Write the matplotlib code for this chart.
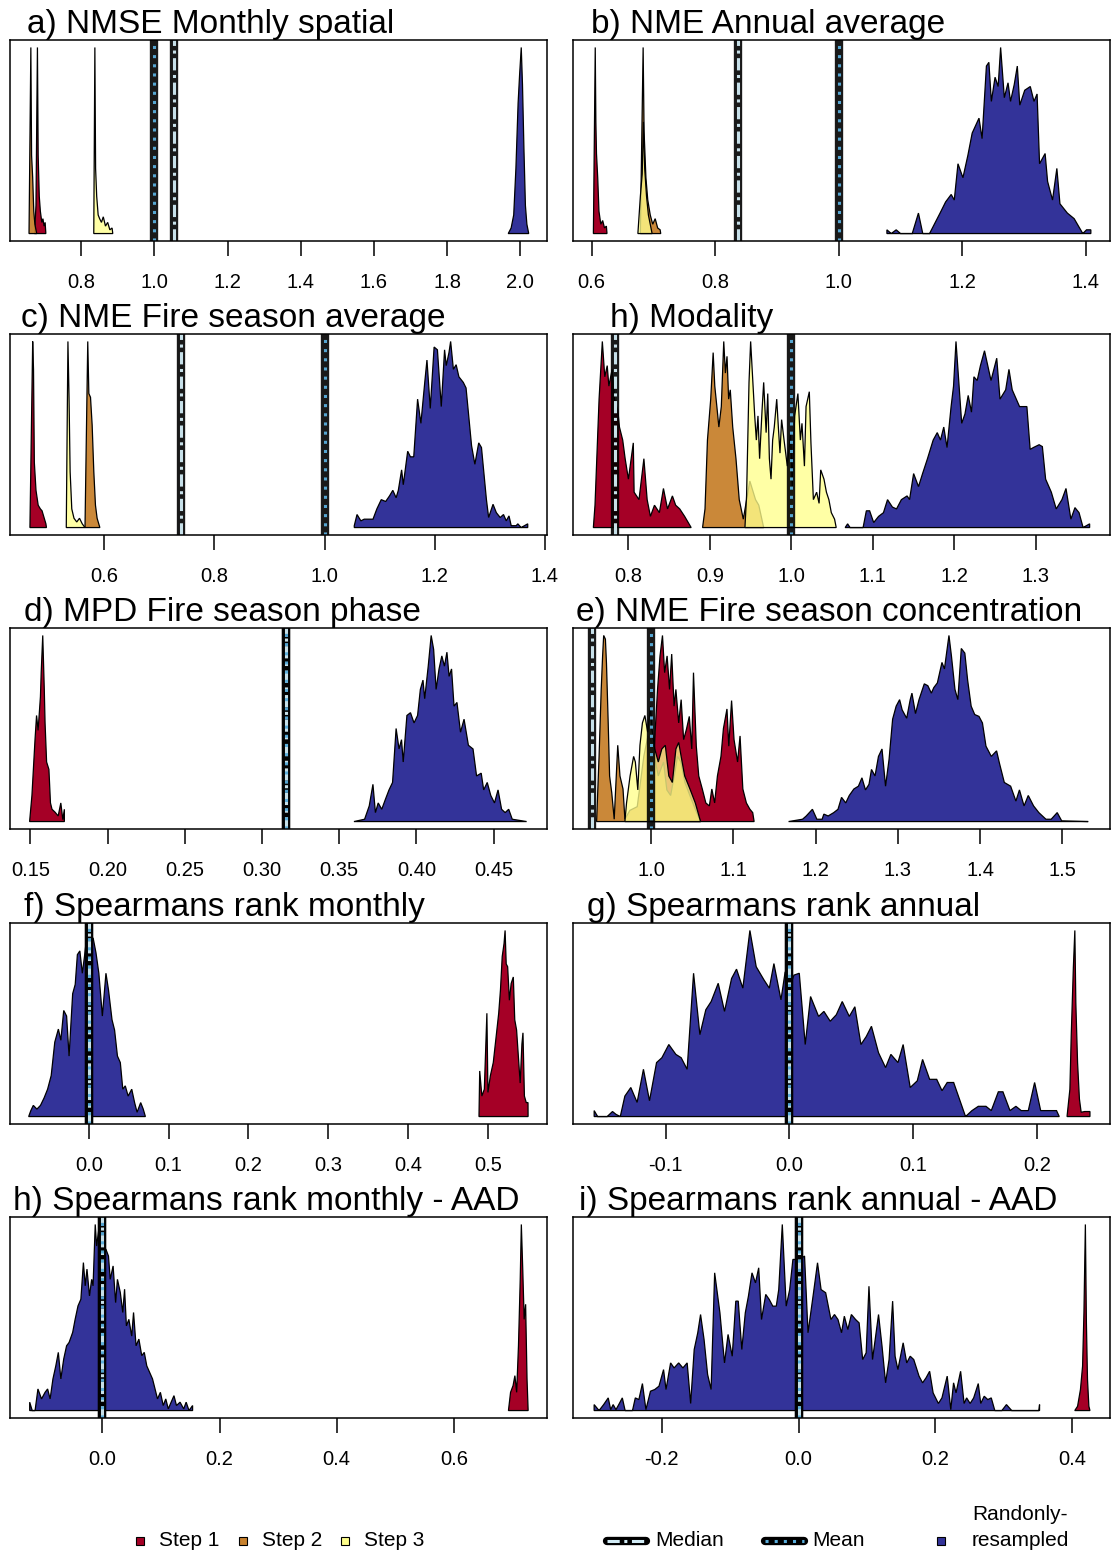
import matplotlib
matplotlib.use("Agg")
import matplotlib.pyplot as plt
import numpy as np

plt.rcParams["font.family"] = ["Liberation Sans", "DejaVu Sans"]

RED = "#A50026"
ORANGE = "#C8822E"
YELLOW = "#FFFF8C"
BLUE = "#333399"
MEDIAN_COL = "#D2ECF6"
MEAN_COL = "#5AAEDC"

# ---- distributions: (score, relative frequency) ----
# a) NMSE Monthly spatial
A_STEP1 = [(0.672, 0), (0.676, 0.15), (0.680, 1.0), (0.682, 0.42), (0.685, 0.20), (0.688, 0.12),
           (0.692, 0.06), (0.695, 0.08), (0.698, 0.04), (0.701, 0.06), (0.703, 0)]
A_STEP2 = [(0.657, 0), (0.662, 1.0), (0.664, 0.42), (0.667, 0.30), (0.670, 0.12), (0.673, 0.05),
           (0.676, 0.02), (0.678, 0)]
A_STEP3 = [(0.834, 0), (0.837, 1.0), (0.839, 0.35), (0.842, 0.20), (0.846, 0.10), (0.850, 0.08),
           (0.855, 0.06), (0.860, 0.09), (0.866, 0.04), (0.872, 0.06), (0.878, 0.02), (0.884, 0.03),
           (0.886, 0)]
A_RAND = [(1.967, 0), (1.975, 0.03), (1.982, 0.10), (1.988, 0.35), (1.994, 0.70), (1.998, 0.85),
          (2.0026, 1.0), (2.006, 0.80), (2.010, 0.45), (2.014, 0.15), (2.018, 0.05), (2.022, 0.01),
          (2.023, 0)]

# b) NME Annual average
B_STEP1 = [(0.603, 0), (0.606, 1.0), (0.607, 0.6), (0.608, 0.43), (0.610, 0.30), (0.612, 0.12),
           (0.615, 0.05), (0.618, 0.07), (0.621, 0.03), (0.624, 0.04), (0.625, 0)]
B_STEP2 = [(0.679, 0), (0.6835, 1.0), (0.685, 0.55), (0.688, 0.30), (0.691, 0.18), (0.695, 0.10),
           (0.699, 0.05), (0.703, 0.08), (0.707, 0.03), (0.711, 0.02), (0.712, 0)]
B_STEP3 = [(0.675, 0), (0.679, 0.20), (0.682, 0.32), (0.684, 0.60), (0.686, 0.35), (0.689, 0.20),
           (0.692, 0.10), (0.695, 0.05), (0.698, 0)]
B_RAND = [(1.078, 0.02), (1.085, 0), (1.093, 0.02), (1.100, 0), (1.119, 0), (1.129, 0.11),
          (1.136, 0), (1.147, 0), (1.164, 0.11), (1.173, 0.17), (1.182, 0.21), (1.187, 0.18),
          (1.193, 0.375), (1.201, 0.30), (1.209, 0.42), (1.216, 0.54), (1.227, 0.62), (1.232, 0.51),
          (1.239, 0.90), (1.243, 0.92), (1.247, 0.71), (1.253, 0.84), (1.258, 0.79), (1.262, 1.0),
          (1.268, 0.73), (1.274, 0.81), (1.278, 0.71), (1.284, 0.80), (1.289, 0.90), (1.293, 0.69),
          (1.301, 0.77), (1.310, 0.79), (1.316, 0.71), (1.321, 0.75), (1.325, 0.375), (1.334, 0.43),
          (1.338, 0.28), (1.346, 0.18), (1.353, 0.35), (1.358, 0.16), (1.370, 0.11), (1.381, 0.08),
          (1.395, 0), (1.401, 0.02), (1.408, 0.02)]

# c) NME Fire season average
C_STEP1 = [(0.465, 0), (0.470, 1.0), (0.4715, 0.85), (0.473, 0.35), (0.476, 0.20), (0.480, 0.12),
           (0.484, 0.10), (0.487, 0.09), (0.490, 0.06), (0.494, 0.02), (0.495, 0)]
C_STEP2 = [(0.565, 0), (0.570, 1.0), (0.572, 0.72), (0.575, 0.70), (0.578, 0.55), (0.581, 0.30),
           (0.584, 0.12), (0.587, 0.05), (0.590, 0.02), (0.592, 0)]
C_STEP3 = [(0.531, 0), (0.534, 1.0), (0.536, 0.70), (0.538, 0.30), (0.541, 0.10), (0.545, 0.05),
           (0.550, 0.03), (0.555, 0.05), (0.560, 0.02), (0.565, 0)]
C_RAND = [(1.054, 0.01), (1.059, 0.07), (1.066, 0.036), (1.072, 0.045), (1.088, 0.045), (1.095, 0.10),
          (1.103, 0.15), (1.111, 0.14), (1.118, 0.17), (1.124, 0.20), (1.130, 0.16), (1.134, 0.20),
          (1.140, 0.31), (1.143, 0.23), (1.151, 0.41), (1.156, 0.38), (1.162, 0.38), (1.169, 0.69),
          (1.175, 0.56), (1.182, 0.78), (1.186, 0.90), (1.192, 0.64), (1.199, 0.97), (1.205, 0.955),
          (1.212, 0.65), (1.218, 0.955), (1.221, 0.87), (1.226, 0.94), (1.229, 1.0), (1.234, 0.85),
          (1.239, 0.875), (1.244, 0.81), (1.252, 0.78), (1.257, 0.75), (1.267, 0.44), (1.273, 0.34),
          (1.280, 0.455), (1.285, 0.43), (1.294, 0.15), (1.298, 0.054), (1.306, 0.125), (1.312, 0.08),
          (1.319, 0.054), (1.325, 0.07), (1.330, 0.036), (1.335, 0.0625), (1.339, 0.01), (1.348, 0.01),
          (1.351, 0.02), (1.357, 0), (1.369, 0.02)]

# h) Modality
H_STEP1 = [(0.757, 0), (0.759, 0.12), (0.764, 0.69), (0.768, 1.0), (0.771, 0.81), (0.774, 0.87),
           (0.776, 0.76), (0.780, 0.85), (0.783, 0.69), (0.787, 0.63), (0.789, 0.54), (0.793, 0.47),
           (0.796, 0.37), (0.800, 0.26), (0.806, 0.455), (0.807, 0.19), (0.813, 0.15), (0.819, 0.37),
           (0.823, 0.15), (0.827, 0.06), (0.832, 0.12), (0.838, 0.08), (0.843, 0.21), (0.848, 0.10),
           (0.854, 0.17), (0.858, 0.12), (0.863, 0.10), (0.869, 0.06), (0.877, 0)]
H_STEP2 = [(0.891, 0), (0.894, 0.10), (0.897, 0.47), (0.901, 0.69), (0.904, 0.94), (0.906, 0.76),
           (0.909, 0.63), (0.911, 0.54), (0.914, 0.65), (0.917, 1.0), (0.919, 0.83), (0.921, 0.92),
           (0.923, 0.69), (0.925, 0.74), (0.928, 0.54), (0.932, 0.37), (0.936, 0.15), (0.941, 0.045),
           (0.949, 0.25), (0.956, 0.15), (0.960, 0.12), (0.966, 0)]
H_STEP3 = [(0.943, 0), (0.945, 0.17), (0.948, 0.78), (0.950, 1.0), (0.953, 0.76), (0.955, 0.60),
           (0.957, 0.47), (0.959, 0.60), (0.961, 0.37), (0.964, 0.63), (0.966, 0.78), (0.969, 0.51),
           (0.971, 0.72), (0.973, 0.37), (0.975, 0.26), (0.977, 0.47), (0.979, 0.54), (0.982, 0.69),
           (0.984, 0.54), (0.986, 0.40), (0.988, 0.58), (0.991, 0.47), (0.995, 0.33), (0.999, 0.51),
           (1.001, 0.22), (1.004, 0.60), (1.008, 0.72), (1.011, 0.47), (1.013, 0.56), (1.016, 0.33),
           (1.018, 0.65), (1.022, 0.73), (1.024, 0.455), (1.027, 0.15), (1.031, 0.19), (1.034, 0.13),
           (1.036, 0.31), (1.040, 0.26), (1.043, 0.19), (1.046, 0.15), (1.049, 0.08), (1.053, 0.045),
           (1.055, 0)]
H_RAND = [(1.066, 0), (1.069, 0.02), (1.072, 0), (1.088, 0), (1.092, 0.09), (1.096, 0.09),
          (1.101, 0.027), (1.107, 0.06), (1.113, 0.08), (1.118, 0.15), (1.124, 0.11), (1.129, 0.10),
          (1.135, 0.15), (1.142, 0.17), (1.145, 0.15), (1.150, 0.29), (1.156, 0.22), (1.161, 0.29),
          (1.167, 0.37), (1.174, 0.47), (1.179, 0.51), (1.183, 0.47), (1.187, 0.54), (1.191, 0.43),
          (1.196, 0.65), (1.199, 0.76), (1.202, 1.0), (1.209, 0.56), (1.213, 0.61), (1.217, 0.71),
          (1.221, 0.62), (1.224, 0.81), (1.228, 0.79), (1.232, 0.87), (1.237, 0.95), (1.241, 0.87),
          (1.245, 0.79), (1.252, 0.91), (1.256, 0.69), (1.263, 0.74), (1.267, 0.85), (1.271, 0.74),
          (1.280, 0.65), (1.289, 0.65), (1.293, 0.42), (1.297, 0.43), (1.304, 0.445), (1.308, 0.435),
          (1.312, 0.26), (1.319, 0.19), (1.325, 0.10), (1.332, 0.15), (1.337, 0.21), (1.343, 0.045),
          (1.348, 0.107), (1.353, 0.08), (1.358, 0), (1.366, 0.02)]

# d) MPD Fire season phase
D_STEP1 = [(0.1495, 0), (0.151, 0.14), (0.153, 0.44), (0.154, 0.57), (0.155, 0.49), (0.1565, 0.67),
           (0.157, 0.80), (0.158, 1.0), (0.159, 0.71), (0.1595, 0.53), (0.1605, 0.32), (0.162, 0.28),
           (0.163, 0.10), (0.164, 0.066), (0.166, 0.05), (0.168, 0.03), (0.1697, 0.10), (0.171, 0.01),
           (0.172, 0.066)]
D_RAND = [(0.3595, 0), (0.3664, 0.0125), (0.3694, 0.084), (0.3718, 0.20), (0.3734, 0.048),
          (0.3752, 0.10), (0.3775, 0.066), (0.3799, 0.12), (0.3822, 0.17), (0.3845, 0.21),
          (0.3868, 0.50), (0.3887, 0.39), (0.3903, 0.44), (0.3914, 0.32), (0.3938, 0.57),
          (0.3961, 0.585), (0.3984, 0.53), (0.4007, 0.57), (0.4025, 0.71), (0.4042, 0.76),
          (0.4053, 0.66), (0.4076, 0.835), (0.4095, 1.0), (0.4111, 0.925), (0.4127, 0.71),
          (0.4146, 0.82), (0.4164, 0.89), (0.4181, 0.835), (0.4197, 0.91), (0.4211, 0.78),
          (0.4227, 0.82), (0.4243, 0.62), (0.4262, 0.64), (0.4285, 0.48), (0.4308, 0.55),
          (0.4336, 0.41), (0.4366, 0.39), (0.4389, 0.245), (0.4419, 0.26), (0.4435, 0.17),
          (0.4458, 0.21), (0.4481, 0.14), (0.4505, 0.10), (0.4528, 0.17), (0.4551, 0.066),
          (0.4574, 0.048), (0.4597, 0.066), (0.4620, 0.0125), (0.4713, 0)]

# e) NME Fire season concentration
E_STEP1 = [(1.0009, 0), (1.0043, 0.445), (1.0077, 0.71), (1.0107, 0.89), (1.0137, 1.0), (1.0163, 0.80),
           (1.0193, 0.89), (1.0223, 0.71), (1.0249, 0.90), (1.0278, 0.62), (1.030, 0.71), (1.0334, 0.53),
           (1.0364, 0.655), (1.0394, 0.44), (1.0428, 0.495), (1.0463, 0.565), (1.0493, 0.39),
           (1.0514, 0.80), (1.0548, 0.405), (1.0578, 0.245), (1.0621, 0.175), (1.0664, 0.10),
           (1.0707, 0.084), (1.0737, 0.175), (1.0771, 0.10), (1.0805, 0.245), (1.0848, 0.35),
           (1.0878, 0.50), (1.0921, 0.605), (1.0943, 0.405), (1.0977, 0.65), (1.1007, 0.44),
           (1.105, 0.32), (1.108, 0.46), (1.1114, 0.175), (1.1157, 0.10), (1.120, 0.066),
           (1.1234, 0.048), (1.1251, 0)]
E_STEP2 = [(0.9336, 0), (0.9366, 0.35), (0.9392, 0.71), (0.9409, 0.89), (0.9422, 1.0), (0.9443, 0.98),
           (0.9456, 0.85), (0.9477, 0.53), (0.9494, 0.245), (0.952, 0.155), (0.955, 0.0125),
           (0.9593, 0.41), (0.962, 0.245), (0.9657, 0.175), (0.968, 0.0125), (0.974, 0.06),
           (0.983, 0.08), (0.991, 0.35), (0.996, 0.46), (1.001, 0.425), (1.004, 0.35), (1.0086, 0.245),
           (1.015, 0.32), (1.019, 0.17), (1.0236, 0.14), (1.028, 0.245), (1.032, 0.35), (1.036, 0.32),
           (1.041, 0.21), (1.047, 0.14), (1.0536, 0.066), (1.060, 0)]
E_STEP3 = [(0.968, 0), (0.970, 0.10), (0.9743, 0.245), (0.9786, 0.35), (0.9807, 0.32), (0.9837, 0.17),
           (0.9863, 0.41), (0.9893, 0.53), (0.9923, 0.57), (0.9957, 0.48), (0.9991, 0.62),
           (1.0009, 0.495), (1.0043, 0.39), (1.0086, 0.32), (1.0129, 0.39), (1.0171, 0.41),
           (1.0214, 0.245), (1.0257, 0.21), (1.030, 0.39), (1.0334, 0.425), (1.0364, 0.35),
           (1.0407, 0.245), (1.0471, 0.175), (1.0536, 0.10), (1.060, 0)]
E_RAND = [(1.167, 0), (1.184, 0.0125), (1.1885, 0.03), (1.196, 0.066), (1.2014, 0.0125), (1.2078, 0.0125),
          (1.2099, 0.04), (1.2151, 0.03), (1.2219, 0.048), (1.2271, 0.066), (1.2314, 0.13), (1.2365, 0.10),
          (1.2408, 0.14), (1.2464, 0.175), (1.2519, 0.19), (1.2562, 0.235), (1.2605, 0.17), (1.2648, 0.20),
          (1.2678, 0.28), (1.2721, 0.245), (1.2763, 0.35), (1.2806, 0.39), (1.2849, 0.19), (1.2892, 0.335),
          (1.2935, 0.55), (1.2978, 0.62), (1.302, 0.655), (1.3051, 0.60), (1.3106, 0.555), (1.3149, 0.655),
          (1.317, 0.69), (1.3213, 0.58), (1.3256, 0.655), (1.332, 0.74), (1.3363, 0.73), (1.3406, 0.69),
          (1.3436, 0.72), (1.3479, 0.745), (1.3535, 0.855), (1.3565, 0.82), (1.362, 1.0), (1.365, 0.89),
          (1.3693, 0.71), (1.3728, 0.655), (1.377, 0.93), (1.3813, 0.905), (1.3847, 0.76), (1.389, 0.62),
          (1.3933, 0.575), (1.3985, 0.565), (1.4027, 0.53), (1.407, 0.405), (1.4135, 0.35), (1.4199, 0.38),
          (1.4233, 0.315), (1.4293, 0.21), (1.437, 0.19), (1.4434, 0.11), (1.4477, 0.17), (1.4533, 0.084),
          (1.4584, 0.14), (1.4649, 0.084), (1.4713, 0.048), (1.4799, 0.0125), (1.4863, 0.0125),
          (1.4936, 0.048), (1.4991, 0.0036), (1.5313, 0)]

# f) Spearmans rank monthly
F_STEP1 = [(0.4888, 0), (0.4897, 0.245), (0.4924, 0.11), (0.4955, 0.147), (0.4987, 0.555), (0.500, 0.13),
           (0.5031, 0.22), (0.5067, 0.29), (0.5103, 0.43), (0.5135, 0.555), (0.5157, 0.68), (0.5179, 0.86),
           (0.5202, 0.93), (0.5215, 1.0), (0.5229, 0.82), (0.5247, 0.805), (0.5269, 0.625), (0.5291, 0.715),
           (0.5318, 0.75), (0.5336, 0.52), (0.5359, 0.465), (0.5381, 0.325), (0.5404, 0.18), (0.5426, 0.39),
           (0.5439, 0.45), (0.5457, 0.11), (0.548, 0.075), (0.5502, 0.075), (0.5503, 0)]
F_RAND = [(-0.0753, 0), (-0.0726, 0.032), (-0.0695, 0.06), (-0.065, 0.04), (-0.0605, 0.06), (-0.056, 0.10),
          (-0.0516, 0.147), (-0.0471, 0.22), (-0.0426, 0.40), (-0.0381, 0.47), (-0.035, 0.41),
          (-0.0314, 0.57), (-0.0278, 0.54), (-0.0247, 0.325), (-0.0202, 0.66), (-0.017, 0.71),
          (-0.0143, 0.87), (-0.0112, 0.89), (-0.0081, 0.77), (-0.0054, 0.86), (-0.0022, 0.98),
          (0.0, 1.0), (0.0022, 0.94), (0.0054, 0.96), (0.009, 0.88), (0.0126, 0.77), (0.017, 0.54),
          (0.0215, 0.77), (0.0247, 0.68), (0.0291, 0.52), (0.0323, 0.465), (0.0359, 0.325), (0.0395, 0.29),
          (0.0426, 0.147), (0.0457, 0.165), (0.0493, 0.11), (0.0538, 0.147), (0.0574, 0.075),
          (0.0605, 0.023), (0.065, 0.075), (0.0682, 0.04), (0.0709, 0)]

# g) Spearmans rank annual
G_STEP1 = [(0.2243, 0), (0.2266, 0.147), (0.2277, 0.44), (0.2294, 0.80), (0.2306, 1.0), (0.2314, 0.61),
           (0.2328, 0.29), (0.2343, 0.094), (0.2357, 0.023), (0.2385, 0.027), (0.2428, 0.027)]
G_RAND = [(-0.1577, 0.032), (-0.1549, 0), (-0.1472, 0), (-0.1429, 0.027), (-0.1401, 0.012), (-0.1366, 0),
          (-0.1329, 0.11), (-0.1281, 0.156), (-0.123, 0.076), (-0.1179, 0.254), (-0.113, 0.085),
          (-0.1073, 0.29), (-0.103, 0.316), (-0.0974, 0.387), (-0.0917, 0.334), (-0.0874, 0.316),
          (-0.0826, 0.254), (-0.0774, 0.77), (-0.0723, 0.44), (-0.0675, 0.574), (-0.0632, 0.618),
          (-0.0575, 0.716), (-0.0524, 0.565), (-0.0467, 0.742), (-0.0427, 0.792), (-0.0376, 0.69),
          (-0.0319, 1.0), (-0.0268, 0.805), (-0.0205, 0.734), (-0.0162, 0.69), (-0.0125, 0.822),
          (-0.0068, 0.627), (-0.0034, 0.778), (-0.0006, 0.68), (0.0037, 0.76), (0.008, 0.77),
          (0.0128, 0.387), (0.0171, 0.645), (0.0236, 0.538), (0.0279, 0.565), (0.033, 0.512),
          (0.0379, 0.547), (0.0427, 0.618), (0.0484, 0.538), (0.0529, 0.59), (0.0578, 0.387),
          (0.0621, 0.43), (0.0663, 0.485), (0.072, 0.343), (0.0777, 0.263), (0.082, 0.334),
          (0.0877, 0.29), (0.0919, 0.387), (0.0976, 0.156), (0.1033, 0.192), (0.1076, 0.307),
          (0.1133, 0.20), (0.119, 0.20), (0.1233, 0.139), (0.1275, 0.183), (0.1327, 0.183),
          (0.1423, 0), (0.1475, 0.032), (0.1526, 0.055), (0.1588, 0.055), (0.1631, 0.032),
          (0.1688, 0.133), (0.1725, 0.133), (0.1782, 0.032), (0.183, 0.055), (0.1873, 0.032),
          (0.193, 0.032), (0.1981, 0.183), (0.203, 0.032), (0.2158, 0.032), (0.218, 0)]

# h) Spearmans rank monthly - AAD
H2_STEP1 = [(0.6932, 0), (0.6968, 0.098), (0.7011, 0.134), (0.7042, 0.1875), (0.7072, 0.098),
            (0.7103, 0.348), (0.7133, 0.705), (0.7152, 1.0), (0.7176, 0.759), (0.720, 0.49),
            (0.7225, 0.571), (0.7249, 0.17), (0.7268, 0)]
H2_RAND = [(-0.1241, 0.045), (-0.1198, 0), (-0.1149, 0), (-0.110, 0.116), (-0.1039, 0.0625),
           (-0.0978, 0.098), (-0.0935, 0.116), (-0.0892, 0.0625), (-0.0844, 0.17), (-0.0795, 0.24),
           (-0.0752, 0.3125), (-0.0709, 0.17), (-0.066, 0.277), (-0.0611, 0.348), (-0.0568, 0.366),
           (-0.0507, 0.42), (-0.0465, 0.49), (-0.0416, 0.5625), (-0.0367, 0.598), (-0.0324, 0.795),
           (-0.0293, 0.67), (-0.0263, 0.76), (-0.022, 0.616), (-0.0183, 0.705), (-0.0159, 0.67),
           (-0.0122, 1.0), (-0.0098, 0.884), (-0.0061, 0.973), (-0.0018, 0.884), (0.0061, 0.866),
           (0.0104, 0.83), (0.0134, 0.705), (0.0183, 0.777), (0.0226, 0.58), (0.0257, 0.705),
           (0.0306, 0.634), (0.0348, 0.527), (0.0379, 0.652), (0.041, 0.455), (0.0452, 0.49),
           (0.0501, 0.40), (0.0532, 0.527), (0.0575, 0.348), (0.0623, 0.384), (0.0672, 0.295),
           (0.0715, 0.3125), (0.0758, 0.24), (0.0807, 0.205), (0.0856, 0.17), (0.0899, 0.116),
           (0.0941, 0.0625), (0.099, 0.098), (0.1039, 0.027), (0.1082, 0.0625), (0.1125, 0.009),
           (0.1174, 0.045), (0.1222, 0.08), (0.1265, 0.027), (0.1326, 0.045), (0.1388, 0.009),
           (0.143, 0.045), (0.1479, 0), (0.154, 0.027)]

# i) Spearmans rank annual - AAD
I_STEP1 = [(0.4039, 0), (0.408, 0.023), (0.4122, 0.113), (0.4153, 0.238), (0.4173, 0.525), (0.4194, 1.0),
           (0.4209, 0.471), (0.4225, 0.167), (0.4245, 0.023), (0.4261, 0)]
I_RAND = [(-0.2988, 0.032), (-0.2916, 0), (-0.2849, 0.032), (-0.2782, 0.068), (-0.2746, 0.005),
          (-0.271, 0.032), (-0.2669, 0.005), (-0.2628, 0.032), (-0.2576, 0.068), (-0.2535, 0),
          (-0.2427, 0), (-0.2386, 0.068), (-0.2334, 0.059), (-0.2282, 0.145), (-0.2231, 0.005),
          (-0.2164, 0.104), (-0.2102, 0.113), (-0.204, 0.131), (-0.1973, 0.22), (-0.1937, 0.113),
          (-0.187, 0.256), (-0.1819, 0.229), (-0.1752, 0.256), (-0.169, 0.229), (-0.1628, 0.256),
          (-0.1577, 0.038), (-0.1525, 0.328), (-0.1473, 0.418), (-0.1432, 0.516), (-0.1381, 0.382),
          (-0.1329, 0.194), (-0.1278, 0.113), (-0.1226, 0.74), (-0.1149, 0.525), (-0.1082, 0.256),
          (-0.103, 0.409), (-0.0969, 0.292), (-0.0917, 0.588), (-0.0881, 0.588), (-0.0829, 0.328),
          (-0.0778, 0.525), (-0.0732, 0.615), (-0.068, 0.74), (-0.0629, 0.686), (-0.0582, 0.767),
          (-0.0541, 0.489), (-0.0479, 0.624), (-0.0428, 0.597), (-0.0376, 0.561), (-0.0325, 0.561),
          (-0.0289, 0.65), (-0.0237, 1.0), (-0.018, 0.561), (-0.0129, 0.65), (-0.0082, 0.812),
          (0.001, 0.812), (0.0088, 0.83), (0.0139, 0.418), (0.0216, 0.624), (0.0278, 0.794),
          (0.033, 0.65), (0.0397, 0.633), (0.0474, 0.489), (0.0526, 0.516), (0.0577, 0.489),
          (0.0629, 0.418), (0.067, 0.507), (0.0721, 0.435), (0.0773, 0.516), (0.0835, 0.489),
          (0.0886, 0.471), (0.0938, 0.274), (0.0989, 0.31), (0.103, 0.668), (0.1082, 0.274),
          (0.117, 0.516), (0.1221, 0.346), (0.1273, 0.149), (0.1324, 0.274), (0.1376, 0.588),
          (0.1412, 0.292), (0.1453, 0.22), (0.153, 0.364), (0.1582, 0.256), (0.1633, 0.292),
          (0.1685, 0.274), (0.1762, 0.185), (0.1814, 0.149), (0.1865, 0.176), (0.1917, 0.211),
          (0.1968, 0.095), (0.2045, 0.038), (0.2097, 0.068), (0.2174, 0.185), (0.2226, 0.005),
          (0.2267, 0.149), (0.2303, 0.095), (0.237, 0.211), (0.2421, 0.038), (0.2458, 0.068),
          (0.2509, 0.038), (0.2561, 0.068), (0.2628, 0.145), (0.2664, 0.038), (0.2715, 0.077),
          (0.2767, 0.059), (0.2818, 0.068), (0.287, 0), (0.2973, 0), (0.304, 0.032), (0.3117, 0),
          (0.3514, 0), (0.3524, 0.032)]

# ---- panel settings: title, x-limits, tick values, median, mean ----
TITLES = ["a) NMSE Monthly spatial", "b) NME Annual average",
          "c) NME Fire season average", "h) Modality",
          "d) MPD Fire season phase", "e) NME Fire season concentration",
          "f) Spearmans rank monthly", "g) Spearmans rank annual",
          "h) Spearmans rank monthly - AAD", "i) Spearmans rank annual - AAD"]
XLIMS = [(0.605, 2.073), (0.570, 1.439), (0.4288, 1.404), (0.732, 1.391), (0.1368, 0.4845),
         (0.9049, 1.5578), (-0.0987, 0.574), (-0.1748, 0.259), (-0.1577, 0.759), (-0.3297, 0.4554)]
TICKS = [[0.8, 1.0, 1.2, 1.4, 1.6, 1.8, 2.0], [0.6, 0.8, 1.0, 1.2, 1.4], [0.6, 0.8, 1.0, 1.2, 1.4],
         [0.8, 0.9, 1.0, 1.1, 1.2, 1.3], [0.15, 0.20, 0.25, 0.30, 0.35, 0.40, 0.45],
         [1.0, 1.1, 1.2, 1.3, 1.4, 1.5], [0.0, 0.1, 0.2, 0.3, 0.4, 0.5], [-0.1, 0.0, 0.1, 0.2],
         [0.0, 0.2, 0.4, 0.6], [-0.2, 0.0, 0.2, 0.4]]
TICK_FMT = ["%.1f"] * 4 + ["%.2f"] + ["%.1f"] * 5
MEDIANS = [1.053, 0.837, 0.740, 0.783, 0.3157, 0.928, 0.0, 0.0, 0.0, 0.0]
MEANS = [1.0, 1.0, 1.0, 1.0, 0.3157, 1.0, 0.0, 0.0, 0.0, 0.0]

DISTS = [
    [(A_RAND, "rand"), (A_STEP1, "s1"), (A_STEP2, "s2"), (A_STEP3, "s3")],
    [(B_RAND, "rand"), (B_STEP1, "s1"), (B_STEP2, "s2"), (B_STEP3, "s3")],
    [(C_RAND, "rand"), (C_STEP1, "s1"), (C_STEP2, "s2"), (C_STEP3, "s3")],
    [(H_RAND, "rand"), (H_STEP1, "s1"), (H_STEP2, "s2"), (H_STEP3, "s3")],
    [(D_RAND, "rand"), (D_STEP1, "s1")],
    [(E_RAND, "rand"), (E_STEP1, "s1"), (E_STEP2, "s2"), (E_STEP3, "s3")],
    [(F_RAND, "rand"), (F_STEP1, "s1")],
    [(G_RAND, "rand"), (G_STEP1, "s1")],
    [(H2_RAND, "rand"), (H2_STEP1, "s1")],
    [(I_RAND, "rand"), (I_STEP1, "s1")],
]

STYLE = {"rand": (BLUE, 1.0, 1), "s1": (RED, 1.0, 3), "s2": (ORANGE, 0.95, 4), "s3": (YELLOW, 0.78, 5)}

W, H = 1112, 1557
COL_X = [10, 573]
ROW_TOP = [40, 334, 628, 923, 1217]
BOX_W, BOX_H = 537, 201


def draw_dist(ax, pts, kind):
    xs = [p[0] for p in pts]
    hs = [p[1] for p in pts]
    xs = [xs[0]] + xs + [xs[-1]]
    hs = [0] + hs + [0]
    col, alpha, z = STYLE[kind]
    ax.fill(xs, hs, facecolor=col, alpha=alpha, zorder=z)
    ax.fill(xs, hs, facecolor="none", edgecolor="black", lw=0.9, zorder=z)


def vline(ax, x, inner, ls):
    ax.axvline(x, color="black", lw=6, alpha=0.9, zorder=6)
    ax.axvline(x, color=inner, lw=2.2, ls=ls, alpha=0.95, zorder=7)


fig = plt.figure(figsize=(W / 100, H / 100), dpi=100)
fig.patch.set_facecolor("white")

axes, titles = [], []
for k in range(10):
    r, c = divmod(k, 2)
    x0, y0 = COL_X[c], ROW_TOP[r]
    ax = fig.add_axes([x0 / W, 1 - (y0 + BOX_H) / H, BOX_W / W, BOX_H / H])
    for pts, kind in DISTS[k]:
        draw_dist(ax, pts, kind)
    vline(ax, MEDIANS[k], MEDIAN_COL, (0, (4, 1.5, 1, 1.5)))
    vline(ax, MEANS[k], MEAN_COL, (0, (1, 2)))
    ax.set_xlim(*XLIMS[k])
    ax.set_ylim(-0.04, 1.04)
    ax.set_yticks([])
    ax.set_xticks(TICKS[k])
    ax.set_xticklabels([TICK_FMT[k] % t for t in TICKS[k]], fontsize=14.5)
    ax.tick_params(axis="x", length=10.8, width=1.1, pad=12)
    for s in ax.spines.values():
        s.set_linewidth(1.1)
        s.set_zorder(10)
    t = ax.text(0.1, 1.035, TITLES[k], transform=ax.transAxes, fontsize=24,
                ha="left", va="baseline")
    axes.append(ax)
    titles.append(t)

# R-style title placement (adj = 0.1)
fig.canvas.draw()
rend = fig.canvas.get_renderer()
for ax, t in zip(axes, titles):
    w = t.get_window_extent(rend).width / ax.get_window_extent(rend).width
    t.set_x(0.1 - 0.1 * w)

# legend strip along the bottom
leg = fig.add_axes([0, 0, 1, 80 / H])
leg.set_xlim(0, W)
leg.set_ylim(H, H - 80)
leg.axis("off")
ly = 1541
for xm, col, lab in [(140, RED, "Step 1"), (243, ORANGE, "Step 2"), (345, YELLOW, "Step 3"),
                     (941, BLUE, None)]:
    leg.plot(xm, ly, marker="s", ms=6, mfc=col, mec="black", mew=0.8)
    if lab:
        leg.text(xm + 19, ly, lab, fontsize=15, va="center", ha="left")
leg.text(972, ly, "resampled", fontsize=15, va="center", ha="left")
leg.text(972, ly - 26, "Randonly-", fontsize=15, va="center", ha="left")

leg.plot([607, 646], [ly, ly], color="black", lw=6, solid_capstyle="round")
leg.plot([607, 646], [ly, ly], color=MEDIAN_COL, lw=2.2, ls=(0, (4, 1.5, 1, 1.5)))
leg.text(655, ly, "Median", fontsize=15, va="center", ha="left")
leg.plot([765, 804], [ly, ly], color="black", lw=6, solid_capstyle="round")
leg.plot([765, 804], [ly, ly], color=MEAN_COL, lw=2.2, ls=(0, (1, 2)))
leg.text(812, ly, "Mean", fontsize=15, va="center", ha="left")

fig.savefig("out.png", dpi=100, facecolor="white")
